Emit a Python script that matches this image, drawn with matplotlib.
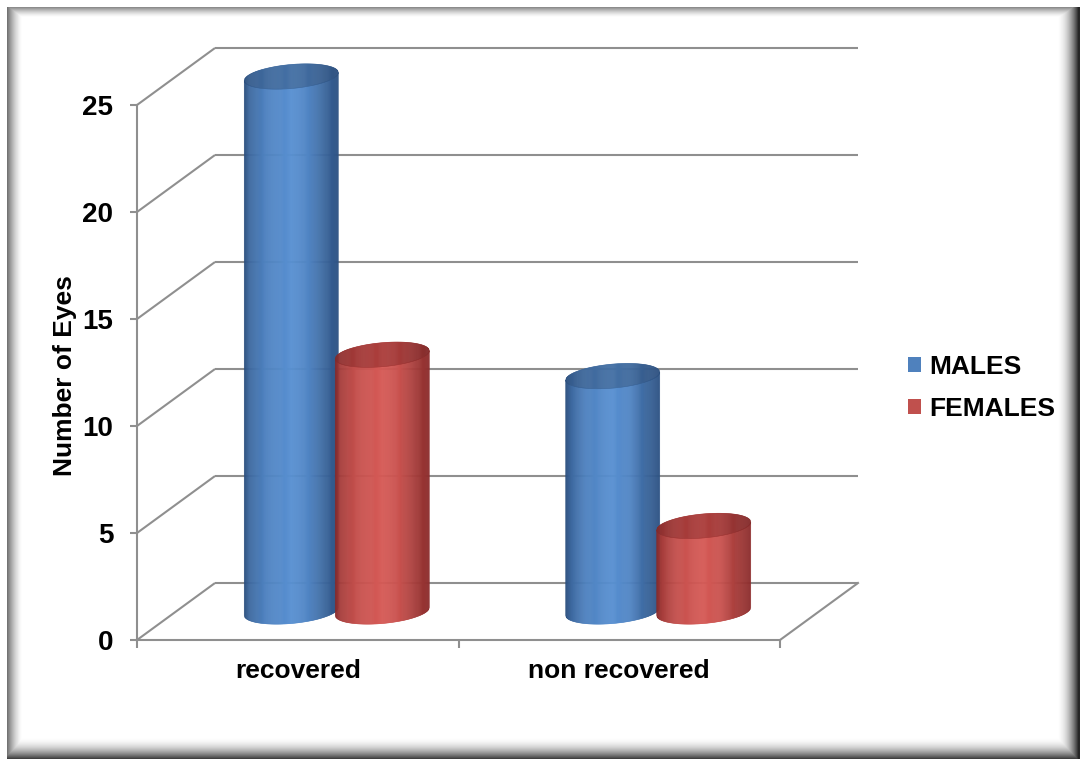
import numpy as np
import matplotlib
matplotlib.use("Agg")
import matplotlib.pyplot as plt
from matplotlib.collections import PolyCollection
from matplotlib.colors import LinearSegmentedColormap
from matplotlib.patches import Patch

# ---------------- data ----------------
categories = ["recovered", "non recovered"]
series_names = ["MALES", "FEMALES"]
males = [25, 11]
females = [12, 4]
yticks = [0, 5, 10, 15, 20, 25]

plt.rcParams['font.family'] = ['Liberation Sans', 'DejaVu Sans']

W, H = 1081, 762
fig = plt.figure(figsize=(W / 100, H / 100), dpi=100)

# ---------------- bevelled frame ----------------
bg = fig.add_axes([0, 0, 1, 1])
bg.axis('off')
xx = np.arange(W)[None, :].astype(float)
yy = np.arange(H)[:, None].astype(float)
dl = np.clip(1 - (xx - 7) / 15, 0, 1) ** 1.5 * 0.55
dr = np.clip((xx - 1056) / 22, 0, 1) ** 2 * 0.85
dt = np.clip(1 - (yy - 7) / 10, 0, 1) ** 1.5 * 0.45
db = np.clip((yy - 736) / 22, 0, 1) ** 2 * 0.75
d = np.maximum(np.maximum(dl + 0 * yy, dr + 0 * yy), np.maximum(dt + 0 * xx, db + 0 * xx))
inside = (xx >= 7) & (xx <= 1079) & (yy >= 7) & (yy <= 758)
d = np.where(inside, d, 0)
bg.imshow(1 - d, cmap='gray', vmin=0, vmax=1, extent=[0, W, H, 0], aspect='auto',
          interpolation='bilinear')
bg.set_xlim(0, W)
bg.set_ylim(H, 0)

# ---------------- main axes ----------------
ax_l, ax_r, ax_b, ax_t = 137, 780, 640, 105
ax = fig.add_axes([ax_l / W, 1 - ax_b / H, (ax_r - ax_l) / W, (ax_b - ax_t) / H])
ax.patch.set_alpha(0)
xmin, xmax = -0.5, len(categories) - 0.5
ymin, ymax = 0, 25
kx = (ax_r - ax_l) / (xmax - xmin)   # px per x unit
ky = (ax_b - ax_t) / (ymax - ymin)   # px per y unit
ddx = 78 / kx
ddy = 57 / ky

grid_c = '#8f8f8f'
glw = 1.5
for v in yticks:
    ax.plot([xmin, xmin + ddx], [v, v + ddy], color=grid_c, lw=glw, clip_on=False, zorder=1,
            solid_capstyle='butt')
    ax.plot([xmin + ddx, xmax + ddx], [v + ddy, v + ddy], color=grid_c, lw=glw, clip_on=False,
            zorder=1, solid_capstyle='butt')
ax.plot([xmax, xmax + ddx], [0, ddy], color=grid_c, lw=glw, clip_on=False, zorder=1)

# spines / ticks
for s in ['top', 'right']:
    ax.spines[s].set_visible(False)
for s in ['left', 'bottom']:
    ax.spines[s].set_color(grid_c)
    ax.spines[s].set_linewidth(glw)
ax.set_xlim(xmin, xmax)
ax.set_ylim(ymin, ymax)
ax.set_yticks(yticks)
ax.set_yticklabels([str(v) for v in yticks], fontsize=20, fontweight='bold')
ax.tick_params(axis='y', direction='out', length=5, width=glw, color=grid_c, pad=12)
ax.set_xticks(np.arange(len(categories) + 1) - 0.5)
ax.set_xticklabels([])
ax.tick_params(axis='x', which='major', direction='out', length=6, width=glw, color=grid_c)
ax.set_xticks(np.arange(len(categories)), minor=True)
ax.set_xticklabels(categories, minor=True, fontsize=19, fontweight='bold')
ax.tick_params(axis='x', which='minor', length=0, pad=14)

fig.text(65 / W, 1 - 376 / H, "Number of Eyes", rotation=90, ha='center', va='center',
         fontsize=19, fontweight='bold')

# ---------------- cylinders ----------------
def cmap_from(dark, light):
    return LinearSegmentedColormap.from_list('c', [np.array(dark) / 255, np.array(light) / 255])

profile_f = [0, 0.06, 0.22, 0.5, 0.68, 0.85, 1.0]
profile_v = [0.05, 0.45, 0.8, 1.0, 0.85, 0.45, 0.15]

styles = {
    0: dict(body=cmap_from((38, 72, 118), (88, 144, 210)),
            top=cmap_from((42, 76, 122), (68, 112, 165)),
            legend='#4F81BD'),
    1: dict(body=cmap_from((128, 38, 38), (214, 90, 86)),
            top=cmap_from((125, 40, 40), (172, 62, 60)),
            legend='#C0504D'),
}

rx = 47 / kx
eb = 12 / ky
sh = 4 / ky
offs = 45.5 / kx
nstrip = 90

def cylinder(cx, value, st, z):
    cy0 = ddy / 2
    cy1 = value + ddy / 2
    edges = np.linspace(-1, 1, nstrip + 1)
    body, top, cb, ct = [], [], [], []
    for k in range(nstrip):
        c0, c1 = edges[k], edges[k + 1]
        cs = np.linspace(c0, c1, 4)
        sq = np.sqrt(np.clip(1 - cs ** 2, 0, 1))
        xs = cx + rx * cs
        lower_b = cy0 - eb * sq + sh * cs
        lower_t = cy1 - eb * sq + sh * cs
        upper_t = cy1 + eb * sq + sh * cs
        body.append(np.column_stack([np.r_[xs, xs[::-1]], np.r_[lower_b, lower_t[::-1]]]))
        top.append(np.column_stack([np.r_[xs, xs[::-1]], np.r_[lower_t, upper_t[::-1]]]))
        f = (k + 0.5) / nstrip
        val = np.interp(f, profile_f, profile_v)
        cb.append(st['body'](val))
        ct.append(st['top'](val))
    pc = PolyCollection(body, facecolors=cb, edgecolors=cb, linewidths=0.4, zorder=z,
                        clip_on=False)
    ax.add_collection(pc)
    pt = PolyCollection(top, facecolors=ct, edgecolors=ct, linewidths=0.4, zorder=z + 0.5,
                        clip_on=False)
    ax.add_collection(pt)

series = [males, females]
for i in range(len(categories)):
    for j, vals in enumerate(series):
        cx = i + ddx / 2 + (-offs if j == 0 else offs)
        cylinder(cx, vals[i], styles[j], 3 + 2 * i + j)

ax.set_xlim(xmin, xmax)
ax.set_ylim(ymin, ymax)

# ---------------- legend ----------------
handles = [Patch(facecolor=styles[j]['legend'], edgecolor='none') for j in range(2)]
fig.legend(handles, series_names, loc='center left', bbox_to_anchor=(908 / W, 1 - 388 / H),
           frameon=False, prop=dict(size=19, weight='bold'), handlelength=0.5,
           handleheight=0.5, handletextpad=0.3, labelspacing=0.7, borderpad=0,
           borderaxespad=0)

fig.savefig('out.png', dpi=100)
